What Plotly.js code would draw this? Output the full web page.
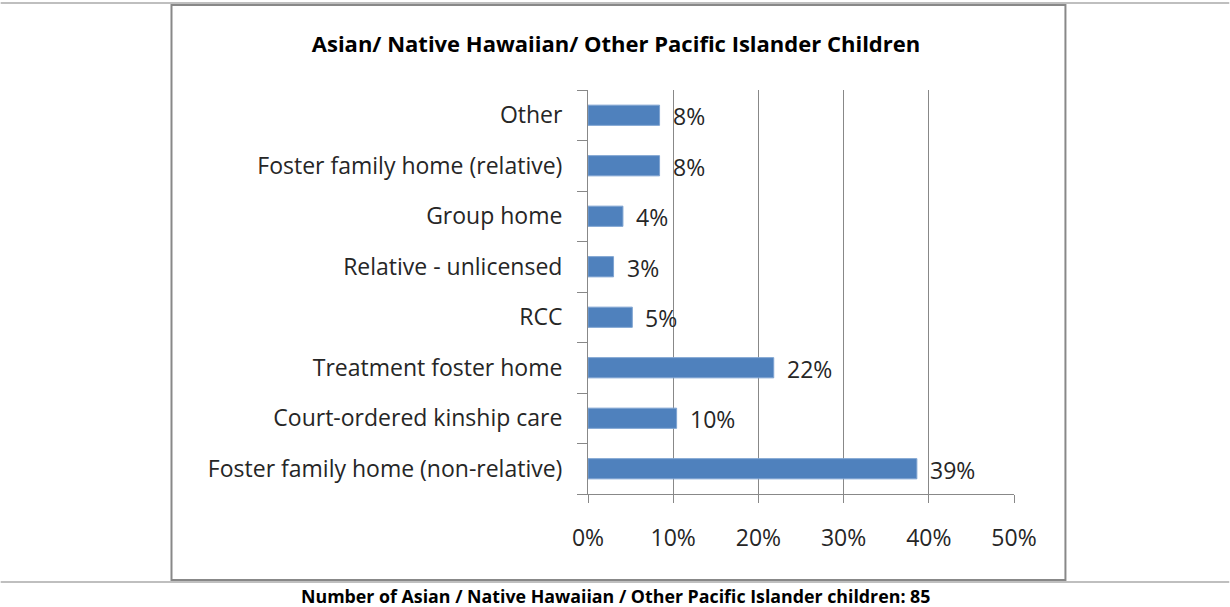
<!DOCTYPE html>
<html>
<head>
<meta charset="utf-8">
<script src="https://cdn.plot.ly/plotly-3.0.1.min.js"></script>
<style>
  html, body { margin: 0; padding: 0; background: #fff; }
  #chart { width: 1230px; height: 607px; }
</style>
</head>
<body>
<div id="chart"></div>
<script>
// placement types, top to bottom as drawn
var placements = [
  'Other',
  'Foster family home (relative)',
  'Group home',
  'Relative - unlicensed',
  'RCC',
  'Treatment foster home',
  'Court-ordered kinship care',
  'Foster family home (non-relative)'
];
var shares = [0.084, 0.084, 0.041, 0.030, 0.052, 0.218, 0.104, 0.386];
var xTicks = [0, 0.1, 0.2, 0.3, 0.4, 0.5];
var childCount = 85;

var W = 1230, H = 607;
var plotL = 588, plotR = 1014.5, plotT = 90, plotB = 494;
// pixel -> paper helpers for the frame lines
function px(x) { return (x - plotL) / (plotR - plotL); }
function py(y) { return (plotB - y) / (plotB - plotT); }

var labelFont = '"Open Sans", sans-serif';

var bars = {
  type: 'bar',
  orientation: 'h',
  x: shares,
  y: placements,
  marker: { color: '#4F81BD', line: { color: '#7EA3D1', width: 1 } },
  hoverinfo: 'x+y'
};

var valueLabels = placements.map(function (p, i) {
  return {
    x: shares[i], y: p, xref: 'x', yref: 'y',
    text: Math.round(shares[i] * 100) + '%',
    showarrow: false, xanchor: 'left', xshift: 11, yshift: -1,
    font: { family: labelFont, size: 23, color: '#262626' }
  };
});

var frameLine = '#888888';
var tableLine = '#BFBFBF';
var shapes = [
  // outer table lines
  { type: 'line', xref: 'paper', yref: 'paper', x0: px(0), x1: px(W), y0: py(3), y1: py(3), line: { color: tableLine, width: 2 } },
  { type: 'line', xref: 'paper', yref: 'paper', x0: px(0), x1: px(W), y0: py(582), y1: py(582), line: { color: tableLine, width: 2 } },
  // chart frame
  { type: 'rect', xref: 'paper', yref: 'paper', x0: px(171), x1: px(1066), y0: py(5), y1: py(580), line: { color: frameLine, width: 2 } }
];

var layout = {
  width: W,
  height: H,
  margin: { l: plotL, r: W - plotR, t: plotT, b: H - plotB, pad: 0 },
  paper_bgcolor: '#ffffff',
  plot_bgcolor: '#ffffff',
  showlegend: false,
  bargap: 0.6,
  title: {
    text: 'Asian/ Native Hawaiian/ Other Pacific Islander Children',
    xref: 'container', yref: 'container',
    x: 616 / W, y: 1 - 44 / H, xanchor: 'center', yanchor: 'middle',
    font: { family: labelFont, size: 22, color: '#000000', weight: 'bold' }
  },
  xaxis: {
    range: [0, 0.5],
    tickvals: xTicks,
    tickformat: '.0%',
    showgrid: true,
    gridcolor: frameLine,
    gridwidth: 1,
    zeroline: false,
    showline: true,
    linecolor: frameLine,
    ticks: 'outside',
    ticklen: 8,
    tickcolor: frameLine,
    ticklabelstandoff: 15,
    tickfont: { family: labelFont, size: 23, color: '#262626' },
    fixedrange: true
  },
  yaxis: {
    type: 'category',
    categoryorder: 'array',
    categoryarray: placements.slice().reverse(),
    showline: true,
    linecolor: frameLine,
    ticks: 'outside',
    tickson: 'boundaries',
    ticklen: 10,
    tickcolor: frameLine,
    tickwidth: 1,
    ticklabelstandoff: 20,
    showgrid: false,
    tickfont: { family: labelFont, size: 23, color: '#262626' },
    fixedrange: true
  },
  shapes: shapes,
  annotations: valueLabels.concat([{
    xref: 'paper', yref: 'paper',
    x: px(616), y: py(596), xanchor: 'center', yanchor: 'middle',
    text: '<b>Number of Asian / Native Hawaiian / Other Pacific Islander children: ' + childCount + '</b>',
    showarrow: false,
    font: { family: labelFont, size: 17.8, color: '#000000' }
  }])
};

Plotly.newPlot('chart', [bars], layout, { displayModeBar: false, staticPlot: true });
</script>
</body>
</html>
